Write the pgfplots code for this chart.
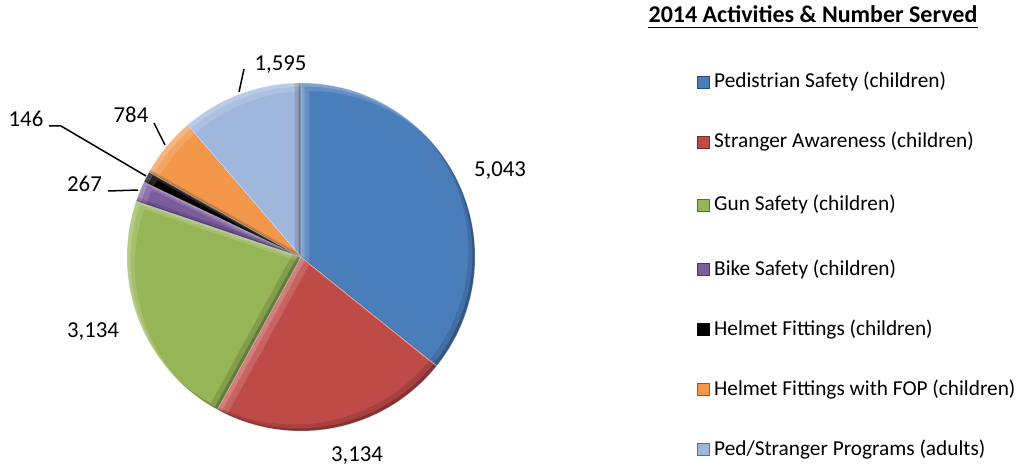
\documentclass[border=0pt]{standalone}
\usepackage{pgfplots}
\pgfplotsset{compat=1.18}
\usepackage{pgfplotstable}
\usepackage{fontspec}
\setmainfont{Carlito}

\definecolor{pie0}{HTML}{4A7EBB}
\definecolor{pie1}{HTML}{BE4B48}
\definecolor{pie2}{HTML}{96B556}
\definecolor{pie3}{HTML}{7B5D9E}
\definecolor{pie4}{HTML}{000000}
\definecolor{pie5}{HTML}{F3974A}
\definecolor{pie6}{HTML}{9FB6DD}

\newcommand\lgfont{\fontsize{21.3}{26}\selectfont}
\newcommand\lbfont{\fontsize{22.8}{27}\selectfont}

% activity, number served, label position (pixels, y down), legend baseline
\pgfplotstableread[col sep=comma]{
name,value,lx,ly,legy
Pedistrian Safety (children),5043,500,177,88
Stranger Awareness (children),3134,357,461,148
Gun Safety (children),3134,93,337,211
Bike Safety (children),267,84.5,192,275
Helmet Fittings (children),146,26,127,335
Helmet Fittings with FOP (children),784,131,123,395
Ped/Stranger Programs (adults),1595,280.5,71,455
}\piedata

\def\cx{301}\def\cy{257}\def\R{174pt}

% total, then slice angles clockwise from 12 o'clock
\def\total{0}
\foreach \i in {0,...,6}{%
  \pgfplotstablegetelem{\i}{value}\of\piedata
  \pgfmathsetmacro\tmp{\total+\pgfplotsretval}\xdef\total{\tmp}}
\def\cum{0}
\foreach \i in {0,...,6}{%
  \pgfplotstablegetelem{\i}{value}\of\piedata
  \pgfmathsetmacro\angA{90-360*(\cum/\total)}%
  \pgfmathsetmacro\cumB{\cum+\pgfplotsretval}%
  \pgfmathsetmacro\angB{90-360*(\cumB/\total)}%
  \expandafter\xdef\csname sa\i\endcsname{\angA}%
  \expandafter\xdef\csname ea\i\endcsname{\angB}%
  \xdef\cum{\cumB}%
  \pgfplotstablegetelem{\i}{name}\of\piedata
  \expandafter\xdef\csname nm\i\endcsname{\pgfplotsretval}%
  \pgfplotstablegetelem{\i}{legy}\of\piedata
  \expandafter\xdef\csname ly\i\endcsname{\pgfplotsretval}}

\def\wedgeat#1#2#3{#1 -- ++(#2:\R) arc[start angle=#2, end angle=#3, radius=\R] -- cycle}

\begin{document}
\begin{tikzpicture}
\begin{axis}[
  scale only axis, width=1021pt, height=468pt,
  xmin=0, xmax=1021, ymin=0, ymax=468, y dir=reverse,
  hide axis, clip=false,
  /pgf/number format/1000 sep={,},
  /pgf/number format/assume math mode=true,
]
\coordinate (O) at (axis cs:\cx,\cy);

% slices with a bevel: light strip on upper-left edges, dark on lower-right
\pgfplotsinvokeforeach{0,...,6}{
  \fill[pie#1] \wedgeat{(O)}{\csname sa#1\endcsname}{\csname ea#1\endcsname};
  \begin{scope}
    \clip \wedgeat{(O)}{\csname sa#1\endcsname}{\csname ea#1\endcsname};
    \fill[white, opacity=.18, even odd rule] (O) circle[radius=200pt]
      \wedgeat{([shift={(3.5pt,-3.5pt)}]O)}{\csname sa#1\endcsname}{\csname ea#1\endcsname};
    \fill[white, opacity=.14, even odd rule] (O) circle[radius=200pt]
      \wedgeat{([shift={(8pt,-8pt)}]O)}{\csname sa#1\endcsname}{\csname ea#1\endcsname};
    \fill[black, opacity=.22, even odd rule] (O) circle[radius=200pt]
      \wedgeat{([shift={(-2.5pt,2.5pt)}]O)}{\csname sa#1\endcsname}{\csname ea#1\endcsname};
    \fill[black, opacity=.12, even odd rule] (O) circle[radius=200pt]
      \wedgeat{([shift={(-6.5pt,6.5pt)}]O)}{\csname sa#1\endcsname}{\csname ea#1\endcsname};
  \end{scope}
  \draw[white, draw opacity=.35, line width=.6pt]
    \wedgeat{(O)}{\csname sa#1\endcsname}{\csname ea#1\endcsname};
}

% value labels
\addplot[only marks, mark=*, mark size=0pt, mark options={draw=none, fill=none},
  point meta=explicit, nodes near coords,
  every node near coord/.append style={anchor=base, inner sep=0pt,
    font=\lbfont, text=black}]
  table[x=lx, y=ly, meta=value] {\piedata};

% leader lines
\addplot[black, line width=1.5pt, no marks] coordinates {(244,69) (239,92)};
\addplot[black, line width=1.5pt, no marks] coordinates {(154,123) (165,145)};
\addplot[black, line width=1.5pt, no marks] coordinates {(49,126) (61,126) (146,176)};
\addplot[black, line width=1.5pt, no marks] coordinates {(108,191) (138,190)};

% legend
\node[anchor=base, inner sep=0pt, font=\fontsize{24}{28}\selectfont\bfseries] (T)
  at (axis cs:813,23) {2014 Activities \& Number Served};
\draw[line width=1.8pt] ([yshift=-4.5pt]T.base west) -- ([yshift=-4.5pt]T.base east);
\pgfplotsinvokeforeach{0,...,6}{
  \fill[pie#1, draw=pie#1!60!black, line width=.8pt]
    (axis cs:697.5,\csname ly#1\endcsname) rectangle
    ([shift={(12pt,12pt)}]axis cs:697.5,\csname ly#1\endcsname);
  \node[anchor=base west, inner sep=0pt, font=\lgfont]
    at (axis cs:714,\csname ly#1\endcsname) {\csname nm#1\endcsname};
}
\end{axis}
\pgfresetboundingbox
\path (current axis.south west) rectangle (current axis.north east);
\end{tikzpicture}
\end{document}
